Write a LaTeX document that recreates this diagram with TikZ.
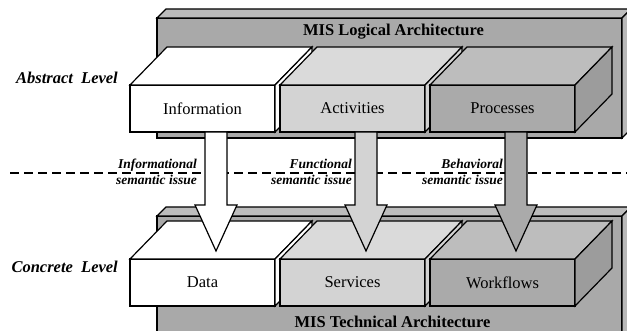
\documentclass[tikz,border=0pt]{standalone}
\usepackage{fontspec}
\setmainfont{Liberation Serif}
\usetikzlibrary{calc,positioning}

\definecolor{archfront}{HTML}{A9A9A9}
\definecolor{archtop}{HTML}{BCBCBC}
\definecolor{archside}{HTML}{B9B9B9}
\definecolor{actfront}{HTML}{D3D3D3}
\definecolor{acttop}{HTML}{DADADA}
\definecolor{procfront}{HTML}{AAAAAA}
\definecolor{proctop}{HTML}{BDBDBD}
\definecolor{procside}{HTML}{9C9C9C}

% top and side of a box drawn from its front node
\newcommand{\boxfaces}[5]{%
  \filldraw[face, fill=#2] (#1.north west) -- ++(#4,-#5) -- ($(#1.north east)+(#4,-#5)$) -- (#1.north east) -- cycle;
  \filldraw[face, fill=#3] (#1.north east) -- ++(#4,-#5) -- ($(#1.south east)+(#4,-#5)$) -- (#1.south east) -- cycle;
}

\tikzset{
  face/.style={draw=black, line width=1.2pt, line join=miter},
  archbox/.style={face, fill=archfront, minimum width=465pt, inner sep=0pt, outer sep=0pt},
  front/.style={face, minimum width=145pt, minimum height=47pt, inner sep=0pt, outer sep=0pt,
    font=\fontsize{16.5}{18}\selectfont},
  archtitle/.style={font=\fontsize{16.5}{18}\selectfont\bfseries, inner sep=0pt},
  levellabel/.style={font=\fontsize{16.5}{18}\selectfont\bfseries\itshape, anchor=east, inner sep=0pt},
  issuelabel/.style={font=\fontsize{13.5}{16.5}\selectfont\bfseries\itshape, align=right, anchor=east, inner sep=0pt},
  dashline/.style={line width=1.2pt, dash pattern=on 9pt off 5pt},
  blockarrow/.style={face, line join=miter}
}

\begin{document}
\begin{tikzpicture}[x=1pt, y=-1pt]
\useasboundingbox (0,0) rectangle (627,331);
\clip (0,0) rectangle (627,331);

% logical architecture
\node[archbox, minimum height=120pt] (logical) at (389.5,78) {};
\boxfaces{logical}{archtop}{archside}{9}{9}
\node[archtitle] (logicaltitle) at ($(logical.north)+(4,14)$) {MIS Logical Architecture};

\node[front, fill=white] (info) at (202.5,108.5) {Information};
\boxfaces{info}{white}{white}{37}{38}
\node[front, fill=actfront, right=5pt of info] (acts) {Activities};
\boxfaces{acts}{acttop}{actfront}{37}{38}
\node[front, fill=procfront, right=5pt of acts] (procs) {Processes};
\boxfaces{procs}{proctop}{procside}{37}{38}

% technical architecture
\node[archbox, minimum height=124pt] (technical) at (389.5,278) {};
\boxfaces{technical}{archtop}{archside}{9}{9}
\node[archtitle] (technicaltitle) at ($(technical.south)+(3,-18)$) {MIS Technical Architecture};

\node[front, fill=white] (data) at (202.5,282.5) {Data};
\boxfaces{data}{white}{white}{37}{38}
\node[front, fill=actfront, right=5pt of data] (servs) {Services};
\boxfaces{servs}{acttop}{actfront}{37}{38}
\node[front, fill=procfront, right=5pt of servs] (flows) {Workflows};
\boxfaces{flows}{proctop}{procside}{37}{38}

\node[levellabel] (abstract) at (118,78) {Abstract\ \ Level};
\node[levellabel] (concrete) at (118,267) {Concrete\ \ Level};

\draw[dashline] (10,173) -- (627,173);

\foreach \a/\b/\c in {info/data/white, acts/servs/actfront, procs/flows/procfront} {
  \filldraw[blockarrow, fill=\c] ($(\a.south)+(2.5,0)$) -- ($(\a.south)+(24.5,0)$)
    -- ($(\b.north)+(24.5,-54)$) -- ($(\b.north)+(34.5,-54)$) -- ($(\b.north)+(13.5,-8)$)
    -- ($(\b.north)+(-7.5,-54)$) -- ($(\b.north)+(2.5,-54)$) -- cycle;
}

\node[issuelabel] (infoissue) at (197,172) {Informational\\semantic issue};
\node[issuelabel] (actsissue) at (352,172) {Functional\\semantic issue};
\node[issuelabel] (procsissue) at (503,172) {Behavioral\\semantic issue};
\end{tikzpicture}
\end{document}
